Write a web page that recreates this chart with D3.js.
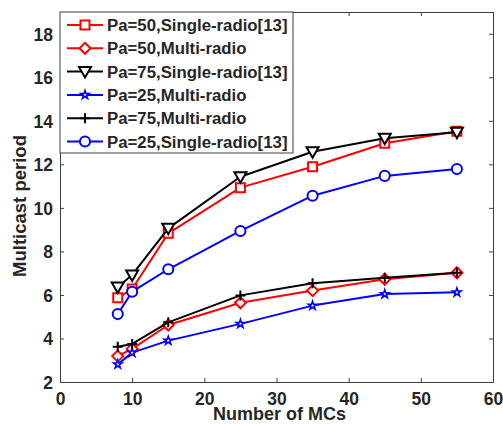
<!DOCTYPE html>
<html>
<head>
<meta charset="utf-8">
<script src="https://cdn.jsdelivr.net/npm/d3@7"></script>
<style>
  html, body { margin: 0; padding: 0; background: #fff; }
  svg { display: block; font-family: "Liberation Sans", Arial, sans-serif; font-weight: bold; }
</style>
</head>
<body>
<svg id="chart" width="503" height="424"></svg>
<script>
// Number of MCs on the x axis
const numMCs = [8, 10, 15, 25, 35, 45, 55];

// Multicast period for each configuration
const pa50Single = [5.87, 6.27, 8.83, 10.93, 11.89, 12.97, 13.52];
const pa50Multi  = [3.19, 3.52, 4.62, 5.64, 6.20, 6.72, 7.02];
const pa75Single = [6.36, 6.92, 9.06, 11.43, 12.58, 13.20, 13.47];
const pa25Multi  = [2.81, 3.35, 3.90, 4.67, 5.51, 6.04, 6.12];
const pa75Multi  = [3.62, 3.75, 4.74, 5.98, 6.54, 6.79, 7.02];
const pa25Single = [5.12, 6.15, 7.18, 8.94, 10.56, 11.47, 11.79];

const seriesNames = [
  "Pa=50,Single-radio[13]",
  "Pa=50,Multi-radio",
  "Pa=75,Single-radio[13]",
  "Pa=25,Multi-radio",
  "Pa=75,Multi-radio",
  "Pa=25,Single-radio[13]"
];
const seriesValues = [pa50Single, pa50Multi, pa75Single, pa25Multi, pa75Multi, pa25Single];

const xTicks = [0, 10, 20, 30, 40, 50, 60];
const yTicks = [2, 4, 6, 8, 10, 12, 14, 16, 18];

const xLabel = "Number of MCs";
const yLabel = "Multicast period";

// Per-series drawing style
const styles = [
  { color: "#ff0000", marker: "square", mw: 2 },
  { color: "#ff0000", marker: "diamond", mw: 2 },
  { color: "#000000", marker: "triangleDown", mw: 2 },
  { color: "#0000ff", marker: "star", mw: 1.6 },
  { color: "#000000", marker: "plus", mw: 2 },
  { color: "#0000ff", marker: "circle", mw: 2 }
];

// Marker outlines, centred at the origin
const markerPath = {
  square: () => "M-4.5,-4.5H4.5V4.5H-4.5Z",
  diamond: () => "M0,-5.5L5.5,0L0,5.5L-5.5,0Z",
  triangleDown: () => "M-6,-4.5L6,-4.5L0,6Z",
  circle: () => d3.symbol(d3.symbolCircle, 80)(),
  star: () => d3.symbol(d3.symbolStar, 22)(),
  plus: () => "M-5,0H5M0,-5V5"
};

const margin = { left: 60, right: 10, top: 12, bottom: 42 };
const W = 503, H = 424;

const svg = d3.select("#chart");

const x = d3.scaleLinear().domain([0, 60]).range([margin.left, W - margin.right]);
const y = d3.scaleLinear().domain([2, 19]).range([H - margin.bottom, margin.top]);

const axisColor = "#404040";
const textColor = "#262626";

// Plot area background
svg.append("rect")
  .attr("x", x(0)).attr("y", y(19))
  .attr("width", x(60) - x(0)).attr("height", y(2) - y(19))
  .attr("fill", "#fff");

// Axes with inward ticks
const tickLen = 4;
const xAxisBottom = svg.append("g")
  .attr("transform", `translate(0,${y(2)})`)
  .call(d3.axisBottom(x).tickValues(xTicks).tickSizeInner(-tickLen).tickSizeOuter(0));
const xAxisTop = svg.append("g")
  .attr("transform", `translate(0,${y(19)})`)
  .call(d3.axisTop(x).tickValues(xTicks).tickSizeInner(-tickLen).tickSizeOuter(0).tickFormat(""));
const yAxisLeft = svg.append("g")
  .attr("transform", `translate(${x(0)},0)`)
  .call(d3.axisLeft(y).tickValues(yTicks).tickSizeInner(-tickLen).tickSizeOuter(0));
const yAxisRight = svg.append("g")
  .attr("transform", `translate(${x(60)},0)`)
  .call(d3.axisRight(y).tickValues(yTicks).tickSizeInner(-tickLen).tickSizeOuter(0).tickFormat(""));

[xAxisBottom, xAxisTop, yAxisLeft, yAxisRight].forEach(g => {
  g.select(".domain").attr("stroke", axisColor).attr("stroke-width", 1);
  g.selectAll(".tick line").attr("stroke", axisColor);
  g.selectAll(".tick text")
    .attr("fill", textColor)
    .style("font-family", "'Liberation Sans', Arial, sans-serif")
    .style("font-weight", "bold")
    .style("font-size", "17.5px");
});
xAxisBottom.selectAll(".tick text").attr("dy", "0.71em").attr("y", 11);
yAxisLeft.selectAll(".tick text").attr("dy", "0.36em").attr("x", -7);

// Axis titles
svg.append("text")
  .attr("x", (x(0) + x(60)) / 2 + 3)
  .attr("y", 420)
  .attr("text-anchor", "middle")
  .attr("fill", textColor)
  .style("font-size", "18px")
  .text(xLabel);

svg.append("text")
  .attr("transform", `translate(26,206) rotate(-90)`)
  .attr("text-anchor", "middle")
  .attr("fill", textColor)
  .style("font-size", "18.5px")
  .text(yLabel);

// Series lines and markers
const line = d3.line().x((d, i) => x(numMCs[i])).y(d => y(d));

seriesValues.forEach((vals, s) => {
  const st = styles[s];
  const g = svg.append("g");
  g.append("path")
    .attr("d", line(vals))
    .attr("fill", "none")
    .attr("stroke", st.color)
    .attr("stroke-width", 2)
    .attr("stroke-linejoin", "round");
  g.selectAll("path.marker")
    .data(vals)
    .join("path")
    .attr("class", "marker")
    .attr("transform", (d, i) => `translate(${x(numMCs[i])},${y(d)})`)
    .attr("d", markerPath[st.marker]())
    .attr("fill", st.marker === "plus" ? "none" : "#fff")
    .attr("stroke", st.color)
    .attr("stroke-width", st.mw);
});

// Legend box in the upper-left corner
const legend = svg.append("g");
const legTop = y(19);
const legLeft = x(0);
const legW = 233, legH = 141;
legend.append("rect")
  .attr("x", legLeft).attr("y", legTop)
  .attr("width", legW).attr("height", legH)
  .attr("fill", "#fff")
  .attr("stroke", axisColor)
  .attr("stroke-width", 1);

seriesNames.forEach((name, i) => {
  const st = styles[i];
  const cy = legTop + 13 + i * 23.3;
  const row = legend.append("g");
  row.append("line")
    .attr("x1", legLeft + 7).attr("x2", legLeft + 43)
    .attr("y1", cy).attr("y2", cy)
    .attr("stroke", st.color).attr("stroke-width", 2);
  row.append("path")
    .attr("transform", `translate(${legLeft + 25},${cy})`)
    .attr("d", markerPath[st.marker]())
    .attr("fill", st.marker === "plus" ? "none" : "#fff")
    .attr("stroke", st.color)
    .attr("stroke-width", st.mw);
  row.append("text")
    .attr("x", legLeft + 47)
    .attr("y", cy)
    .attr("dy", "0.36em")
    .attr("fill", textColor)
    .style("font-size", "16.8px")
    .text(name);
});
</script>
</body>
</html>
